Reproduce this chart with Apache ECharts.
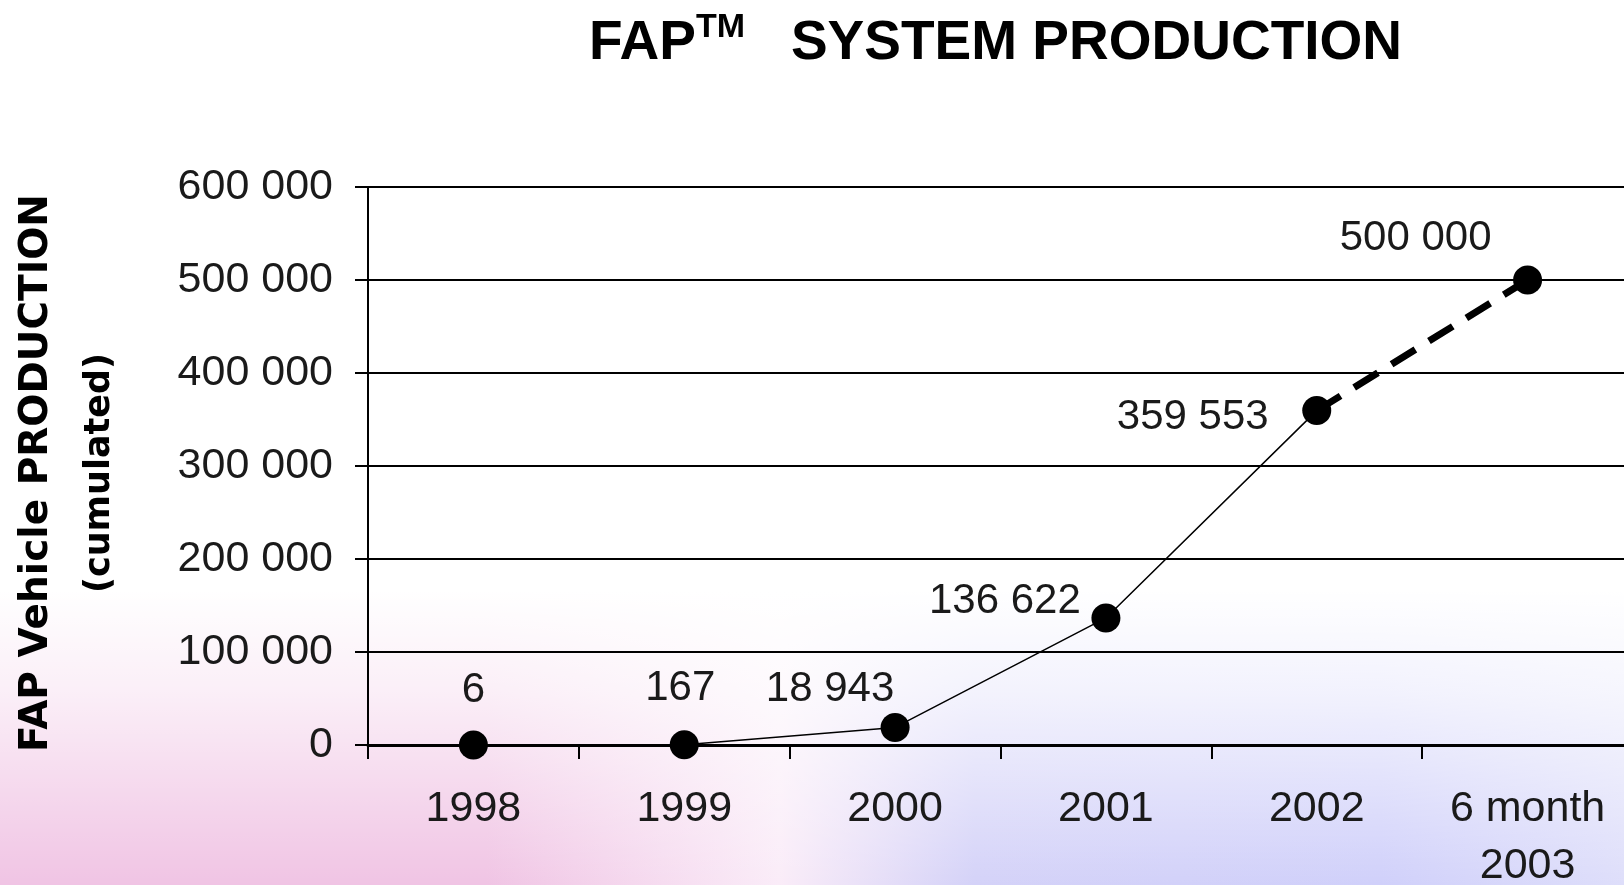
<!DOCTYPE html>
<html>
<head>
<meta charset="utf-8">
<style>
  html, body { margin: 0; padding: 0; background: #ffffff; }
  #chart { width: 1624px; height: 885px; }
</style>
<script src="https://cdn.jsdelivr.net/npm/echarts@6/dist/echarts.min.js"></script>
</head>
<body>
<div id="chart"></div>
<script>
// ---- data ----
const categories = ['1998', '1999', '2000', '2001', '2002', '6 month\n2003'];
const producedValues = [6, 167, 18943, 136622, 359553];
const targetValue = 500000;
const yTicks = { min: 0, max: 600000, interval: 100000 };

// ---- label placement (style, not data) ----
const labelOffsets = [[0, -55], [-4, -56], [-65, -38], [-101, -17], [-124, 7]];
const targetLabelOffset = [-112, -42];

function fmt(v) {
  return String(v).replace(/\B(?=(\d{3})+(?!\d))/g, ' ');
}

const labelFont = { fontFamily: 'Liberation Sans, Arial, sans-serif', fontSize: 42, color: '#1a1a1a' };

const actualData = producedValues.map((v, i) => ({
  value: v,
  label: {
    show: true, position: 'inside', offset: labelOffsets[i],
    formatter: () => fmt(v), ...labelFont
  }
}));

const forecastData = categories.map((c, i) => {
  if (i === producedValues.length - 1) return { value: producedValues[i], symbol: 'none', label: { show: false } };
  if (i === categories.length - 1) return {
    value: targetValue,
    label: { show: true, position: 'inside', offset: targetLabelOffset, formatter: () => fmt(targetValue), ...labelFont }
  };
  return '-';
});

const chart = echarts.init(document.getElementById('chart'), null, { renderer: 'canvas' });

chart.setOption({
  backgroundColor: '#ffffff',
  animation: false,
  graphic: [
    {
      type: 'rect', z: -100, silent: true,
      shape: { x: 0, y: 590, width: 1624, height: 295 },
      style: {
        fill: new echarts.graphic.LinearGradient(0, 0, 1, 0, [
          { offset: 0, color: 'rgb(240,196,228)' },
          { offset: 0.3, color: 'rgb(240,196,228)' },
          { offset: 0.48, color: 'rgb(250,236,248)' },
          { offset: 0.6, color: 'rgb(212,210,248)' },
          { offset: 0.85, color: 'rgb(208,208,250)' },
          { offset: 1, color: 'rgb(222,222,250)' }
        ])
      }
    },
    {
      type: 'rect', z: -99, silent: true,
      shape: { x: 0, y: 590, width: 1624, height: 295 },
      style: {
        fill: new echarts.graphic.LinearGradient(0, 0, 0, 1, [
          { offset: 0, color: 'rgba(255,255,255,1)' },
          { offset: 0.35, color: 'rgba(255,255,255,0.72)' },
          { offset: 1, color: 'rgba(255,255,255,0)' }
        ])
      }
    }
  ],
  title: {
    left: 584,
    top: 6,
    text: '{a|FAP}{b|TM}{a|   SYSTEM PRODUCTION}',
    textStyle: {
      rich: {
        a: { fontFamily: 'Liberation Sans, Arial, sans-serif', fontWeight: 'bold', fontSize: 55, color: '#000', lineHeight: 60, verticalAlign: 'bottom' },
        b: { fontFamily: 'Liberation Sans, Arial, sans-serif', fontWeight: 'bold', fontSize: 34, color: '#000', lineHeight: 34, verticalAlign: 'top' }
      }
    }
  },
  grid: { left: 368, right: -9, top: 187, bottom: 140, containLabel: false, outerBoundsMode: 'none' },
  xAxis: {
    type: 'category',
    data: categories,
    boundaryGap: true,
    axisLine: { show: true, lineStyle: { color: '#000', width: 3 } },
    axisTick: { show: true, length: 14, lineStyle: { color: '#000', width: 2 } },
    axisLabel: { margin: 36, lineHeight: 57, ...labelFont, fontSize: 43, interval: 0 },
    splitLine: { show: false }
  },
  yAxis: {
    type: 'value',
    min: yTicks.min, max: yTicks.max, interval: yTicks.interval,
    name: '{a|FAP Vehicle PRODUCTION}\n{b|(cumulated)}',
    nameLocation: 'middle',
    nameRotate: 90,
    nameGap: 237,
    nameTextStyle: {
      padding: [0, 14, 0, 0],
      rich: {
        a: { fontFamily: 'DejaVu Sans, Verdana, sans-serif', fontWeight: 'bold', fontSize: 39, color: '#000', lineHeight: 63 },
        b: { fontFamily: 'DejaVu Sans, Verdana, sans-serif', fontWeight: 'bold', fontSize: 35, color: '#000', lineHeight: 63 }
      }
    },
    axisLine: { show: true, lineStyle: { color: '#000', width: 2 } },
    axisTick: { show: true, length: 13, lineStyle: { color: '#000', width: 2 } },
    axisLabel: { margin: 35, formatter: fmt, ...labelFont, fontSize: 43 },
    splitLine: { show: true, lineStyle: { color: '#000', width: 2 } }
  },
  series: [
    {
      type: 'line',
      data: actualData,
      symbol: 'circle',
      symbolSize: 29,
      itemStyle: { color: '#000' },
      lineStyle: { color: '#000', width: 1.5 },
      z: 3
    },
    {
      type: 'line',
      data: forecastData,
      symbol: 'circle',
      symbolSize: 29,
      connectNulls: false,
      itemStyle: { color: '#000' },
      lineStyle: { color: '#000', width: 7, type: [28, 16] },
      z: 3
    }
  ]
});
</script>
</body>
</html>
